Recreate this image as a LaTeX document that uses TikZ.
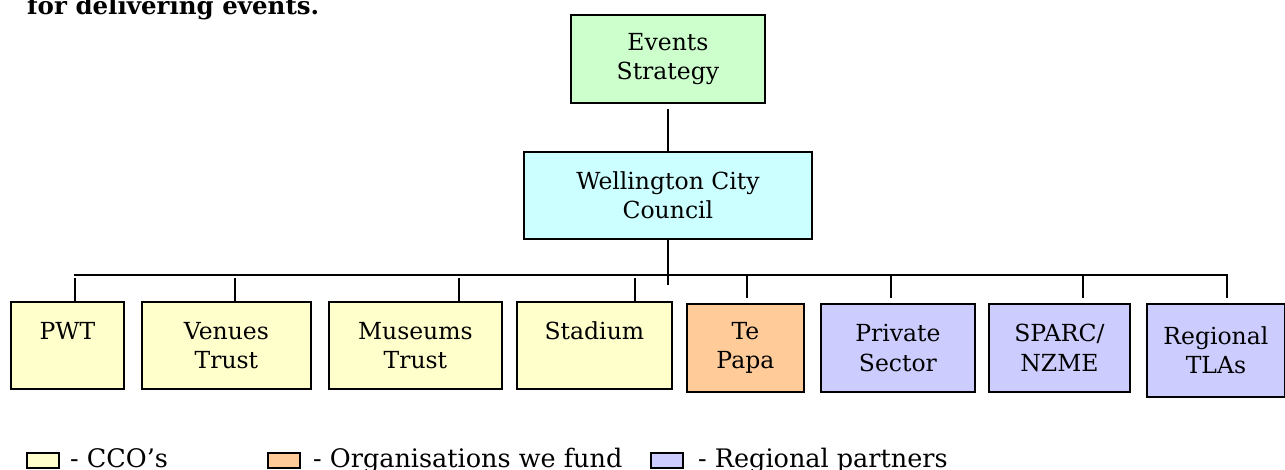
\documentclass[tikz,border=0pt]{standalone}
\usepackage{fontspec}
\setmainfont{DejaVu Serif}
\usetikzlibrary{calc}
\definecolor{stratgreen}{HTML}{CCFFCC}
\definecolor{councilcyan}{HTML}{CCFFFF}
\definecolor{ccoyellow}{HTML}{FFFFCC}
\definecolor{fundorange}{HTML}{FFCC99}
\definecolor{partnerblue}{HTML}{CCCCFF}
\tikzset{
  orgbox/.style={draw, line width=1.8pt, anchor=north west, inner sep=0pt, align=center, font=\fontsize{23.5}{29.5}\selectfont},
  link/.style={line width=1.6pt},
  swatch/.style={draw, line width=1.5pt, anchor=north west, minimum width=32pt, minimum height=15pt, inner sep=0pt},
  legendtext/.style={anchor=base west, inner sep=0pt, font=\fontsize{25.5}{30}\selectfont}
}

\begin{document}
\begin{tikzpicture}[x=1pt,y=-1pt]
\useasboundingbox (0,0) rectangle (1285,470);
\node[anchor=base west, inner sep=0pt, font=\bfseries\fontsize{24.5}{30}\selectfont] (intro) at (27,15) {for delivering events.};

\node[orgbox, fill=stratgreen, minimum width=194pt, minimum height=88pt] (strategy) at (570,14) {Events\\Strategy};
\node[orgbox, fill=councilcyan, minimum width=288pt, minimum height=87pt] (council) at (523,151) {Wellington City\\Council};

% CCOs
\node[orgbox, fill=ccoyellow, minimum width=113pt, minimum height=87pt] (pwt) at (10,301) {PWT\\~};
\node[orgbox, fill=ccoyellow, minimum width=169pt, minimum height=87pt] (venues) at (141,301) {Venues\\Trust};
\node[orgbox, fill=ccoyellow, minimum width=173pt, minimum height=87pt] (museums) at (328,301) {Museums\\Trust};
\node[orgbox, fill=ccoyellow, minimum width=155pt, minimum height=87pt] (stadium) at (516,301) {Stadium\\~};
% funded + partners
\node[orgbox, fill=fundorange, minimum width=117pt, minimum height=88pt] (tepapa) at (686,303) {Te\\Papa};
\node[orgbox, fill=partnerblue, minimum width=154pt, minimum height=88pt] (private) at (820,303) {Private\\Sector};
\node[orgbox, fill=partnerblue, minimum width=141pt, minimum height=88pt] (sparc) at (988,303) {SPARC/\\NZME};
\node[orgbox, fill=partnerblue, minimum width=138pt, minimum height=93pt] (regional) at (1146,303) {Regional\\TLAs};

\draw[link] ([yshift=-5pt]strategy.south) -- (council.north);
\draw[link] (council.south) -- ++(0,45);
\coordinate (busL) at (74,275);
\coordinate (busR) at (1228,275);
\draw[link] (busL) -- (busR);
\foreach \n/\x in {pwt/75,venues/235,museums/459,stadium/635}{
  \coordinate (top-\n) at (\x,278);
  \draw[link] (top-\n) -- (top-\n |- \n.north);
}
\foreach \n/\x in {tepapa/747,private/891,sparc/1083,regional/1227}{
  \coordinate (top-\n) at (\x,275);
  \draw[link, shorten >=5pt] (top-\n) -- (top-\n |- \n.north);
}

% key
\node[swatch, fill=ccoyellow] (keycco) at (26,452) {};
\node[legendtext] (keyccotext) at (70,467) {- CCO's};
\node[swatch, fill=fundorange] (keyfund) at (267,452) {};
\node[legendtext] (keyfundtext) at (313,467) {- Organisations we fund};
\node[swatch, fill=partnerblue] (keypartner) at (650,452) {};
\node[legendtext] (keypartnertext) at (698,467) {- Regional partners};
\end{tikzpicture}
\end{document}
